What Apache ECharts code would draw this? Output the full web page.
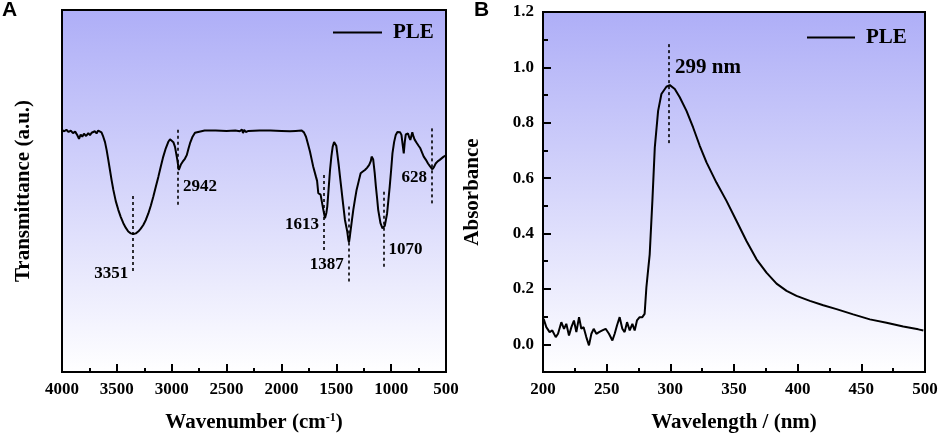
<!DOCTYPE html>
<html>
<head>
<meta charset="utf-8">
<script src="https://cdn.jsdelivr.net/npm/echarts@6/dist/echarts.min.js"></script>
<style>
  html, body { margin: 0; padding: 0; background: #fff; }
  #main { width: 941px; height: 441px; }
</style>
</head>
<body>
<div id="main"></div>
<script>
// A: FTIR
let ftirWavenumber = [4000, 3980, 3960, 3940, 3920, 3900, 3880, 3860, 3845, 3830, 3815, 3800, 3780, 3760, 3745, 3730, 3715, 3700, 3685, 3670, 3654, 3640, 3624, 3608, 3593, 3578, 3563, 3548, 3532, 3510, 3487, 3464, 3441, 3418, 3396, 3373, 3350, 3327, 3305, 3282, 3259, 3236, 3213, 3190, 3168, 3145, 3122, 3100, 3077, 3054, 3031, 3015, 3001, 2985, 2970, 2950, 2935, 2928, 2915, 2900, 2880, 2863, 2848, 2833, 2810, 2788, 2770, 2700, 2600, 2500, 2420, 2380, 2360, 2350, 2340, 2325, 2300, 2200, 2100, 2000, 1922, 1870, 1815, 1795, 1776, 1758, 1740, 1725, 1710, 1685, 1675, 1664, 1655, 1643, 1630, 1618, 1603, 1590, 1582, 1570, 1557, 1545, 1533, 1520, 1512, 1500, 1491, 1478, 1466, 1454, 1442, 1421, 1400, 1390, 1384, 1376, 1369, 1357, 1345, 1330, 1315, 1295, 1278, 1258, 1239, 1220, 1200, 1185, 1178, 1168, 1164, 1150, 1139, 1128, 1118, 1097, 1079, 1068, 1058, 1048, 1037, 1025, 1013, 1000, 988, 973, 958, 943, 928, 918, 906, 896, 885, 876, 867, 856, 846, 835, 825, 816, 807, 796, 786, 776, 765, 750, 734, 718, 703, 683, 664, 645, 624, 610, 594, 576, 557, 540, 521, 500];
let ftirTransmittance = [66.8, 66.5, 66.9, 66.3, 66.7, 66.0, 66.4, 65.4, 64.4, 65.6, 65.0, 65.8, 65.2, 66.0, 65.4, 66.1, 65.6, 66.5, 65.9, 66.7, 66.6, 66.2, 65.0, 63.5, 61.3, 58.6, 55.8, 53.0, 50.3, 47.2, 44.8, 42.8, 41.1, 39.8, 38.8, 38.3, 38.1, 38.3, 38.8, 39.6, 40.6, 42.0, 43.8, 46.0, 48.4, 51.2, 53.9, 56.7, 59.5, 61.8, 63.6, 64.3, 64.3, 63.5, 62.2, 58.8, 55.8, 56.0, 57.4, 58.1, 58.9, 59.9, 61.6, 63.2, 65.0, 66.1, 66.6, 66.7, 66.7, 66.6, 66.7, 66.5, 67.0, 66.0, 66.9, 66.3, 66.6, 66.7, 66.7, 66.6, 66.5, 66.6, 66.7, 66.2, 65.0, 63.0, 60.9, 58.8, 56.7, 53.9, 52.8, 49.4, 49.8, 49.0, 46.8, 44.8, 42.5, 44.0, 45.7, 50.5, 55.8, 59.5, 62.2, 63.5, 63.6, 62.5, 60.4, 57.2, 53.9, 50.7, 47.5, 42.0, 38.8, 36.5, 35.8, 37.5, 39.2, 42.0, 44.8, 47.6, 50.3, 52.8, 54.9, 55.4, 55.8, 56.4, 57.2, 58.3, 59.5, 59.0, 58.8, 55.0, 51.2, 48.0, 44.8, 41.1, 39.7, 40.0, 40.4, 42.0, 43.8, 47.5, 51.2, 55.8, 60.4, 63.5, 65.5, 66.3, 66.4, 66.2, 65.5, 63.0, 60.4, 63.5, 65.6, 66.0, 65.9, 64.8, 64.1, 65.2, 66.2, 65.0, 64.2, 64.0, 63.2, 62.5, 61.8, 60.6, 59.5, 58.6, 57.6, 56.8, 56.0, 56.6, 57.6, 58.2, 58.6, 59.0, 59.5, 59.8];
// peak markers: position, dotted line top/bottom, label height, label side
let peakWn = [3351, 2942, 1613, 1387, 1070, 628];
let peakTop = [48.6, 66.9, 54.4, 45.7, 49.8, 67.3];
let peakBottom = [27.3, 45.7, 33.7, 24.5, 29.1, 46.1];
let peakLabelY = [27.3, 51.1, 40.6, 29.6, 33.7, 53.6];
let peakLabelSide = ['left', 'right', 'left', 'left', 'right', 'left'];

// B: UV-vis
let uvWavelength = [200.5, 202.6, 205.2, 207.3, 210, 211.8, 214.4, 216.5, 218.3, 220.4, 222.3, 224.3, 226.2, 228.3, 230.1, 231.9, 234, 236.1, 238, 239.8, 241.9, 244, 246.6, 249.2, 251.8, 254.5, 256.3, 258.1, 260.2, 262.3, 264.1, 266, 268.1, 270.2, 272, 273.8, 275.9, 278, 279.8, 281.2, 282.5, 283.8, 285.9, 287.8, 290.4, 293, 296.9, 299.6, 303.5, 307.4, 312.7, 317.9, 323.1, 328.4, 336.2, 344.1, 351.9, 359.8, 367.7, 375.5, 383.4, 391.3, 399.1, 409.6, 420.1, 430.5, 443.6, 456.7, 469.8, 482.9, 494.7, 498.7];
let uvAbsorbance = [0.092, 0.062, 0.044, 0.05, 0.026, 0.038, 0.08, 0.056, 0.074, 0.032, 0.062, 0.086, 0.044, 0.098, 0.056, 0.062, 0.026, -0.004, 0.038, 0.056, 0.038, 0.044, 0.05, 0.056, 0.038, 0.014, 0.038, 0.068, 0.098, 0.056, 0.044, 0.08, 0.05, 0.074, 0.05, 0.086, 0.098, 0.098, 0.11, 0.206, 0.266, 0.325, 0.518, 0.711, 0.843, 0.904, 0.93, 0.936, 0.922, 0.892, 0.843, 0.783, 0.717, 0.657, 0.584, 0.518, 0.446, 0.373, 0.307, 0.259, 0.219, 0.193, 0.175, 0.157, 0.141, 0.127, 0.108, 0.09, 0.078, 0.064, 0.054, 0.05];
let absTicks = [0, 0.2, 0.4, 0.6, 0.8, 1.0, 1.2];
let absMinorTicks = [0.1, 0.3, 0.5, 0.7, 0.9, 1.1];
let uvPeak = 299;
let uvPeakLine = [1.084, 0.717];
let uvPeakLabelY = 1.0;

let serif = 'Liberation Serif';
let tickFont = { fontFamily: serif, fontWeight: 'bold', fontSize: 17, color: '#000' };
let nameFont = { fontFamily: serif, fontWeight: 'bold', fontSize: 21, color: '#000',
    rich: { sup: { fontFamily: serif, fontWeight: 'bold', fontSize: 12, color: '#000', verticalAlign: 'top', padding: [0, 0, 8, 0] } } };
let black2 = { color: '#000', width: 2 };

let plotBg = {
    type: 'linear', x: 0, y: 0, x2: 0, y2: 1,
    colorStops: [
        { offset: 0, color: '#aeaef7' },
        { offset: 0.5, color: '#d6d6fb' },
        { offset: 1, color: '#ffffff' }
    ]
};

function xAxisBase(gridIndex, min, max, interval, name) {
    return {
        gridIndex: gridIndex, type: 'value', min: min, max: max, interval: interval,
        axisLine: { show: true, onZero: false, lineStyle: black2 },
        axisTick: { inside: true, length: 8, lineStyle: black2 },
        minorTick: { show: true, splitNumber: 2, length: 4, lineStyle: black2 },
        axisLabel: Object.assign({ margin: 9, formatter: v => String(v) }, tickFont),
        splitLine: { show: false },
        name: name, nameLocation: 'middle', nameGap: 40, nameTextStyle: nameFont
    };
}

let ftirData = ftirWavenumber.map((w, i) => [w, ftirTransmittance[i]]);
let uvData = uvWavelength.map((w, i) => [w, uvAbsorbance[i]]);
let dotted = { color: '#000', width: 1.6, type: [3, 3] };
let legendText = { fontFamily: serif, fontWeight: 'bold', fontSize: 21, color: '#000', padding: [0, 0, 0, 6] };

option = {
    animation: false,
    backgroundColor: '#fff',
    title: [
        { text: 'A', left: 2, top: 0, padding: 0, textStyle: { fontFamily: 'Liberation Sans', fontWeight: 'bold', fontSize: 21, color: '#000' } },
        { text: 'B', left: 474, top: 0, padding: 0, textStyle: { fontFamily: 'Liberation Sans', fontWeight: 'bold', fontSize: 21, color: '#000' } }
    ],
    legend: [
        { data: ['PLE'], left: 333, top: 22, icon: 'rect', itemWidth: 49, itemHeight: 2, itemGap: 0, padding: 0, textStyle: legendText },
        { data: ['PLE'], left: 807, top: 27, icon: 'rect', itemWidth: 48, itemHeight: 2, itemGap: 0, padding: 0, textStyle: legendText }
    ],
    grid: [
        { left: 62, top: 10, width: 384, height: 362, show: true, backgroundColor: plotBg, borderColor: '#000', borderWidth: 2 },
        { left: 543, top: 12, width: 382, height: 360, show: true, backgroundColor: plotBg, borderColor: '#000', borderWidth: 2 },
        //只为B的小刻度
        { left: 543, top: 12, width: 382, height: 360, show: false }
    ],
    xAxis: [
        Object.assign(xAxisBase(0, 500, 4000, 500, 'Wavenumber (cm{sup|-1})'), { inverse: true }),
        xAxisBase(1, 200, 500, 50, 'Wavelength / (nm)'),
        { gridIndex: 2, type: 'value', min: 200, max: 500, show: false }
    ],
    yAxis: [
        {
            gridIndex: 0, type: 'value', min: 0, max: 100,
            axisLine: { show: true, lineStyle: black2 },
            axisTick: { show: false }, axisLabel: { show: false }, splitLine: { show: false },
            name: 'Transmittance (a.u.)', nameLocation: 'middle', nameGap: 28, nameTextStyle: nameFont
        },
        {
            gridIndex: 1, type: 'value', min: -0.1, max: 1.2,
            axisLine: { show: true, onZero: false, lineStyle: black2 },
            axisTick: { inside: true, length: 8, lineStyle: black2, customValues: absTicks },
            axisLabel: Object.assign({ margin: 9, customValues: absTicks, formatter: v => v.toFixed(1) }, tickFont),
            splitLine: { show: false },
            name: 'Absorbance', nameLocation: 'middle', nameGap: 60, nameTextStyle: nameFont
        },
        {
            gridIndex: 2, type: 'value', min: -0.1, max: 1.2,
            axisLine: { show: false },
            axisTick: { inside: true, length: 5, lineStyle: black2, customValues: absMinorTicks },
            axisLabel: { show: false }, splitLine: { show: false }
        }
    ],
    series: [
        {
            name: 'PLE', type: 'line', xAxisIndex: 0, yAxisIndex: 0,
            data: ftirData, symbol: 'none', lineStyle: black2, itemStyle: { color: '#000' },
            markLine: {
                silent: true, symbol: 'none', label: { show: false }, lineStyle: dotted,
                data: peakWn.map((w, i) => [{ coord: [w, peakTop[i]] }, { coord: [w, peakBottom[i]] }])
            }
        },
        {
            name: 'peaks', type: 'scatter', xAxisIndex: 0, yAxisIndex: 0, symbolSize: 0, silent: true,
            itemStyle: { opacity: 1, color: '#000' },
            label: Object.assign({ show: true, formatter: '{b}', distance: 5 }, tickFont),
            data: peakWn.map((w, i) => ({ name: String(w), value: [w, peakLabelY[i]], label: { position: peakLabelSide[i] } }))
        },
        {
            name: 'PLE', type: 'line', xAxisIndex: 1, yAxisIndex: 1,
            data: uvData, symbol: 'none', lineStyle: black2, itemStyle: { color: '#000' },
            markLine: {
                silent: true, symbol: 'none', label: { show: false }, lineStyle: dotted,
                data: [[{ coord: [uvPeak, uvPeakLine[0]] }, { coord: [uvPeak, uvPeakLine[1]] }]]
            }
        },
        {
            name: 'peakB', type: 'scatter', xAxisIndex: 1, yAxisIndex: 1, symbolSize: 0, silent: true,
            itemStyle: { opacity: 1, color: '#000' },
            label: { show: true, position: 'right', distance: 6, formatter: '{b}', fontFamily: serif, fontWeight: 'bold', fontSize: 21, color: '#000' },
            data: [{ name: uvPeak + ' nm', value: [uvPeak, uvPeakLabelY] }]
        }
    ]
};

let myChart = echarts.init(document.getElementById('main'));
myChart.setOption(option);
</script>
</body>
</html>
